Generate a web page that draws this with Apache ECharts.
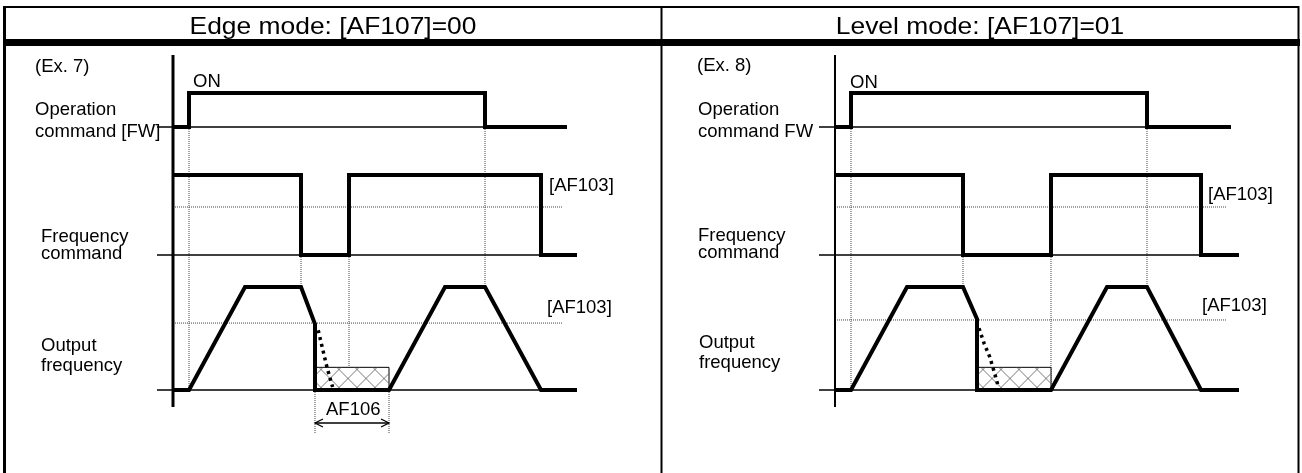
<!DOCTYPE html>
<html>
<head>
<meta charset="utf-8">
<script src="https://cdn.jsdelivr.net/npm/echarts@6/dist/echarts.min.js"></script>
<style>
html,body{margin:0;padding:0;background:#fff}
#chart{width:1302px;height:473px}
</style>
</head>
<body>
<div id="chart"></div>
<script>
// time in arbitrary units, 0 = vertical axis of each panel
// levels are per signal: 0 = off / stopped, 1 = on / top speed

// (Ex. 7) edge mode
var edgeOpT = [0, 4, 4, 78, 78, 98.5];
var edgeOpV = [0, 0, 1, 1, 0, 0];
var edgeFreqT = [0, 32, 32, 44, 44, 92, 92, 101];
var edgeFreqV = [1, 1, 0, 0, 1, 1, 0, 0];
var edgeOutT = [0, 4, 18, 32, 35.5, 35.5, 54, 68, 78, 92, 101];
var edgeOutV = [0, 0, 1, 1, 0.64, 0, 0, 1, 1, 0, 0];
var edgeCoastT = [36.3, 37.4, 38.3, 39.3, 39.9];
var edgeCoastV = [0.58, 0.4, 0.25, 0.11, 0.03];
var edgeHold = [35.5, 54];
var edgeGuideT = [4, 32, 44, 78];
var edgeGuideFrom = ['op', 'freq', 'freq', 'op'];
var edgeGuideTo = [0, 1, 0, 1];
var edgeThr = [0.6, 0.65];

// (Ex. 8) level mode
var levelOpT = [0, 4, 4, 78, 78, 99];
var levelOpV = [0, 0, 1, 1, 0, 0];
var levelFreqT = [0, 32, 32, 54, 54, 91.5, 91.5, 101];
var levelFreqV = [1, 1, 0, 0, 1, 1, 0, 0];
var levelOutT = [0, 4, 18, 32, 35.5, 35.5, 54, 68, 78, 91.5, 101];
var levelOutV = [0, 0, 1, 1, 0.69, 0, 0, 1, 1, 0, 0];
var levelCoastT = [36, 37.3, 38.7, 40, 40.7];
var levelCoastV = [0.6, 0.45, 0.32, 0.15, 0.05];
var levelHold = [35.5, 54];
var levelGuideT = [4, 32, 54, 78];
var levelGuideFrom = ['op', 'freq', 'freq', 'op'];
var levelGuideTo = [0, 1, 0, 1];
var levelThr = [0.6, 0.68];

// where each signal sits on the panel's y axis (0..378)
var band = {
  op: {base: 306, h: 34},
  freq: {base: 178, h: 80},
  out: {base: 43, h: 103}
};

var FONT = '18.5px "Liberation Sans", Arial, sans-serif';

function lv(name, v) {
  return band[name].base + v * band[name].h;
}
function zip(name, ts, vs) {
  return ts.map(function (t, i) { return [t, lv(name, vs[i])]; });
}
function lineS(i, data, width, dash, z) {
  return {
    type: 'line', xAxisIndex: i, yAxisIndex: i, data: data,
    showSymbol: false, clip: false, silent: true, z: z || 2,
    lineStyle: {color: dash ? '#444' : '#000', width: width, type: dash || 'solid', join: 'miter', cap: 'butt'}
  };
}

function hatch(x0, x1, yb, yt) {
  var h = yb - yt, p = 18, kids = [];
  var st = {stroke: '#555', lineWidth: 0.8};
  for (var c = x0 + 3.5 - p * 2; c < x1 + h; c += p) {
    var s0 = Math.max(0, x0 - c), s1 = Math.min(h, x1 - c);
    if (s1 > s0) kids.push({type: 'line', shape: {x1: c + s0, y1: yb - s0, x2: c + s1, y2: yb - s1}, style: st});
  }
  for (var c2 = x0 + 8.5 - p * 2; c2 < x1 + h + p; c2 += p) {
    var a0 = Math.max(0, c2 - x1), a1 = Math.min(h, c2 - x0);
    if (a1 > a0) kids.push({type: 'line', shape: {x1: c2 - a0, y1: yb - a0, x2: c2 - a1, y2: yb - a1}, style: st});
  }
  return kids;
}

function panel(i, d) {
  var s = [];
  // guides
  d.guideT.forEach(function (t, k) {
    s.push(lineS(i, [[t, lv(d.guideFrom[k], 0)], [t, lv('out', d.guideTo[k])]], 1, [1, 1], 1));
  });
  s.push(lineS(i, [[0, lv('freq', d.thr[0])], [d.thrEnd, lv('freq', d.thr[0])]], 1, [1, 1], 1));
  s.push(lineS(i, [[0, lv('out', d.thr[1])], [d.thrEnd, lv('out', d.thr[1])]], 1, [1, 1], 1));
  // axis + baselines
  s.push(lineS(i, [[0, 26], [0, 378]], d.axisW));
  s.push(lineS(i, [[-4, lv('op', 0)], [d.opT[d.opT.length - 1], lv('op', 0)]], 1.5));
  s.push(lineS(i, [[-4, lv('freq', 0)], [101, lv('freq', 0)]], 1.5));
  s.push(lineS(i, [[-4, lv('out', 0)], [101, lv('out', 0)]], 1.5));
  // hold box
  s.push({
    type: 'custom', xAxisIndex: i, yAxisIndex: i, silent: true, z: 3,
    data: [[d.hold[0], d.hold[1], lv('out', 0), lv('out', 0.22)]],
    renderItem: function (params, api) {
      var a = api.coord([api.value(0), api.value(2)]);
      var b = api.coord([api.value(1), api.value(3)]);
      var kids = [{type: 'rect', shape: {x: a[0], y: b[1], width: b[0] - a[0], height: a[1] - b[1]},
        style: {fill: '#fff', stroke: '#000', lineWidth: 1}}];
      return {type: 'group', children: kids.concat(hatch(a[0], b[0], a[1], b[1]))};
    }
  });
  // signals
  s.push(lineS(i, zip('op', d.opT, d.opV), 4, null, 5));
  s.push(lineS(i, zip('freq', d.freqT, d.freqV), 4, null, 5));
  s.push(lineS(i, zip('out', d.outT, d.outV), 4, null, 5));
  s.push(lineS(i, zip('out', d.coastT, d.coastV), 3.5, [3, 4], 6));
  s[s.length - 1].lineStyle.color = '#000';
  if (d.dim) {
    s.push(lineS(i, [[d.hold[0], 0], [d.hold[0], lv('out', 0)]], 1, [1, 1], 1));
    s.push(lineS(i, [[d.hold[1], 0], [d.hold[1], lv('out', 0)]], 1, [1, 1], 1));
    s.push({
      type: 'custom', xAxisIndex: i, yAxisIndex: i, silent: true, z: 4,
      data: [[d.hold[0], d.hold[1], 10]],
      renderItem: function (params, api) {
        var a = api.coord([api.value(0), api.value(2)]);
        var b = api.coord([api.value(1), api.value(2)]);
        var st = {stroke: '#000', lineWidth: 1.3, fill: null};
        return {type: 'group', children: [
          {type: 'line', shape: {x1: a[0], y1: a[1], x2: b[0], y2: b[1]}, style: st},
          {type: 'polyline', shape: {points: [[a[0] + 8, a[1] - 4], a, [a[0] + 8, a[1] + 4]]}, style: st},
          {type: 'polyline', shape: {points: [[b[0] - 8, b[1] - 4], b, [b[0] - 8, b[1] + 4]]}, style: st}
        ]};
      }
    });
  }
  return s;
}

function txt(x, y, text, extra) {
  var o = {type: 'text', x: x, y: y, silent: true,
    style: {text: text, font: FONT, fill: '#000', textAlign: 'left', verticalAlign: 'middle'}};
  if (extra) Object.assign(o, extra);
  return o;
}
function ln(x1, y1, x2, y2, w) {
  return {type: 'line', silent: true, shape: {x1: x1, y1: y1, x2: x2, y2: y2}, style: {stroke: '#000', lineWidth: w}};
}

var chart = echarts.init(document.getElementById('chart'));

var series = [].concat(
  panel(0, {opT: edgeOpT, opV: edgeOpV, freqT: edgeFreqT, freqV: edgeFreqV, outT: edgeOutT, outV: edgeOutV,
    coastT: edgeCoastT, coastV: edgeCoastV, hold: edgeHold, guideT: edgeGuideT, guideFrom: edgeGuideFrom,
    guideTo: edgeGuideTo, thr: edgeThr, thrEnd: 97.5, axisW: 3, dim: true}),
  panel(1, {opT: levelOpT, opV: levelOpV, freqT: levelFreqT, freqV: levelFreqV, outT: levelOutT, outV: levelOutV,
    coastT: levelCoastT, coastV: levelCoastV, hold: levelHold, guideT: levelGuideT, guideFrom: levelGuideFrom,
    guideTo: levelGuideTo, thr: levelThr, thrEnd: 98, axisW: 2, dim: false})
);

var hdr = '24px "Liberation Sans", Arial, sans-serif';

chart.setOption({
  animation: false,
  backgroundColor: '#fff',
  grid: [
    {left: 157, top: 55, width: 420, height: 378},
    {left: 819, top: 55, width: 420, height: 378}
  ],
  xAxis: [
    {type: 'value', gridIndex: 0, min: -4, max: 101, show: false},
    {type: 'value', gridIndex: 1, min: -4, max: 101, show: false}
  ],
  yAxis: [
    {type: 'value', gridIndex: 0, min: 0, max: 378, show: false},
    {type: 'value', gridIndex: 1, min: 0, max: 378, show: false}
  ],
  graphic: [
    // frame
    ln(4, 7, 1299, 7, 2),
    ln(4.5, 6, 4.5, 473, 3),
    ln(1298.5, 6, 1298.5, 473, 2),
    ln(661.5, 6, 661.5, 473, 2),
    {type: 'rect', silent: true, shape: {x: 3, y: 39, width: 1297, height: 7}, style: {fill: '#000'}},
    {type: 'text', x: 333, y: 27, scaleX: 1.1, silent: true,
      style: {text: 'Edge mode: [AF107]=00', font: hdr, fill: '#000', textAlign: 'center', verticalAlign: 'middle'}},
    {type: 'text', x: 980, y: 27, scaleX: 1.1, silent: true,
      style: {text: 'Level mode: [AF107]=01', font: hdr, fill: '#000', textAlign: 'center', verticalAlign: 'middle'}},
    // left panel
    txt(35, 67, '(Ex. 7)'),
    txt(193, 82, 'ON'),
    txt(35, 110, 'Operation'),
    txt(35, 131.5, 'command [FW]'),
    txt(41, 237, 'Frequency'),
    txt(41, 253.5, 'command'),
    txt(41, 345.5, 'Output'),
    txt(41, 366, 'frequency'),
    txt(549, 185.5, '[AF103]'),
    txt(547, 308, '[AF103]'),
    txt(326, 409.5, 'AF106'),
    // right panel
    txt(697, 66, '(Ex. 8)'),
    txt(850, 82.5, 'ON'),
    txt(698, 110, 'Operation'),
    txt(698, 131.5, 'command FW'),
    txt(698, 236, 'Frequency'),
    txt(698, 253, 'command'),
    txt(699, 342.5, 'Output'),
    txt(699, 362.5, 'frequency'),
    txt(1208, 195, '[AF103]'),
    txt(1202, 306, '[AF103]')
  ],
  series: series
});
</script>
</body>
</html>
